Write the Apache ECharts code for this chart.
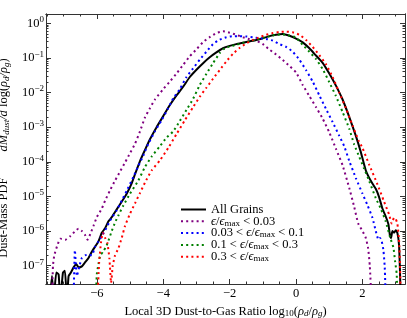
<!DOCTYPE html>
<html>
<head>
<meta charset="utf-8">
<script src="https://cdn.jsdelivr.net/npm/echarts@6/dist/echarts.min.js"></script>
<style>html,body{margin:0;padding:0;background:#fff}#c{width:407px;height:318px}</style>
</head>
<body>
<div id="c"></div>
<script>
// ---- Data (x = log10 dust-to-gas ratio, y = log10 of dust-mass PDF) ----
const allX = [-7.42,-7.35,-7.3,-7.22,-7.15,-7.1,-7.02,-6.96,-6.9,-6.85,-6.78,-6.7,-6.62,-6.55,-6.45,-6.35,-6.25,-6.15,-6.05,-5.95,-5.85,-5.75,-5.65,-5.55,-5.45,-5.35,-5.25,-5.1,-4.95,-4.85,-4.7,-4.55,-4.4,-4.2,-4.0,-3.8,-3.6,-3.4,-3.2,-3.0,-2.8,-2.6,-2.4,-2.2,-2.0,-1.8,-1.6,-1.4,-1.2,-1.0,-0.8,-0.6,-0.4,-0.2,0.0,0.2,0.4,0.6,0.8,1.0,1.2,1.4,1.6,1.8,1.95,2.1,2.25,2.4,2.5,2.6,2.7,2.78,2.83,2.86,2.9,2.95,3.0,3.05,3.1,3.13,3.15];
const allLog = [-8,-7.3,-8,-7.2,-7.25,-8,-7.2,-7.15,-8,-7.3,-7.2,-7.05,-6.95,-7.05,-7.02,-6.9,-6.78,-6.6,-6.45,-6.3,-6.05,-5.92,-5.72,-5.6,-5.45,-5.3,-5.15,-4.92,-4.62,-4.36,-3.98,-3.66,-3.35,-3.0,-2.68,-2.36,-2.08,-1.83,-1.55,-1.34,-1.15,-0.98,-0.84,-0.72,-0.65,-0.6,-0.56,-0.52,-0.48,-0.43,-0.37,-0.33,-0.31,-0.36,-0.44,-0.55,-0.72,-0.93,-1.14,-1.45,-1.8,-2.2,-2.7,-3.25,-3.72,-4.25,-4.55,-4.78,-5.02,-5.35,-5.58,-5.8,-6.15,-6.2,-6.0,-6.05,-5.98,-6.05,-6.4,-7.2,-8];

const purpleX = [-7.35,-7.32,-7.28,-7.2,-7.1,-6.95,-6.8,-6.65,-6.55,-6.45,-6.35,-6.28,-6.18,-6.1,-6.0,-5.85,-5.75,-5.6,-5.45,-5.3,-5.15,-5.0,-4.85,-4.7,-4.55,-4.4,-4.25,-4.0,-3.8,-3.6,-3.4,-3.2,-3.0,-2.8,-2.6,-2.4,-2.2,-2.0,-1.8,-1.6,-1.4,-1.2,-1.0,-0.8,-0.6,-0.4,-0.2,0.0,0.2,0.4,0.6,0.8,1.0,1.2,1.4,1.6,1.75,1.87,2.0,2.1,2.17,2.22,2.27];
const purpleLog = [-8,-7.0,-6.7,-6.45,-6.22,-6.25,-6.15,-6.0,-5.93,-6.0,-6.12,-6.25,-6.05,-5.85,-5.6,-5.35,-5.12,-4.82,-4.54,-4.28,-4.02,-3.75,-3.48,-3.12,-2.72,-2.45,-2.2,-1.9,-1.68,-1.45,-1.2,-0.95,-0.75,-0.54,-0.4,-0.28,-0.23,-0.27,-0.33,-0.4,-0.46,-0.5,-0.6,-0.76,-0.9,-1.06,-1.23,-1.42,-1.78,-2.1,-2.42,-2.75,-3.15,-3.62,-4.1,-4.75,-5.3,-5.78,-6.0,-6.2,-6.5,-7.0,-8];

const blueX = [-6.7,-6.66,-6.6,-6.52,-6.45,-6.35,-6.25,-6.15,-6.05,-5.95,-5.85,-5.75,-5.6,-5.4,-5.25,-5.1,-4.9,-4.75,-4.6,-4.45,-4.25,-4.05,-3.85,-3.7,-3.5,-3.3,-3.1,-2.9,-2.7,-2.5,-2.3,-2.1,-1.9,-1.7,-1.5,-1.3,-1.1,-0.9,-0.7,-0.5,-0.3,-0.1,0.1,0.3,0.5,0.7,0.9,1.1,1.3,1.45,1.6,1.8,2.0,2.15,2.3,2.4,2.48,2.53,2.58,2.63,2.67,2.7];
const blueLog = [-8,-6.55,-7.3,-7.0,-6.78,-6.7,-6.68,-6.7,-6.45,-6.3,-6.15,-5.98,-5.7,-5.4,-5.12,-4.84,-4.44,-4.12,-3.82,-3.48,-3.12,-2.8,-2.45,-2.17,-1.9,-1.55,-1.3,-1.05,-0.82,-0.6,-0.47,-0.4,-0.37,-0.37,-0.38,-0.4,-0.43,-0.45,-0.5,-0.6,-0.68,-0.82,-1.05,-1.35,-1.68,-2.08,-2.47,-2.85,-3.25,-3.55,-3.97,-4.47,-4.92,-5.25,-5.62,-6.0,-6.25,-6.2,-6.3,-6.55,-7.05,-8];

const greenX = [-6.03,-6.0,-5.95,-5.9,-5.8,-5.72,-5.65,-5.55,-5.45,-5.35,-5.2,-5.0,-4.75,-4.55,-4.35,-4.1,-3.9,-3.7,-3.5,-3.3,-3.1,-2.9,-2.7,-2.5,-2.3,-2.15,-2.0,-1.8,-1.6,-1.4,-1.2,-1.0,-0.8,-0.6,-0.4,-0.2,0.0,0.2,0.4,0.6,0.8,1.0,1.2,1.4,1.6,1.75,1.9,2.05,2.2,2.4,2.55,2.7,2.83,2.93,2.98,3.03,3.05];
const greenLog = [-8,-7.25,-6.95,-6.72,-6.58,-6.45,-6.28,-6.0,-5.75,-5.55,-5.26,-4.92,-4.54,-4.15,-3.85,-3.55,-3.3,-3.12,-2.82,-2.5,-2.18,-1.78,-1.46,-1.15,-0.86,-0.72,-0.67,-0.62,-0.56,-0.52,-0.47,-0.42,-0.37,-0.33,-0.32,-0.35,-0.41,-0.62,-0.82,-1.03,-1.32,-1.7,-2.1,-2.56,-3.04,-3.5,-3.85,-4.2,-4.55,-5.05,-5.35,-5.72,-6.18,-6.47,-6.86,-7.24,-8];

const redX = [-5.98,-5.93,-5.87,-5.82,-5.75,-5.68,-5.62,-5.57,-5.52,-5.45,-5.35,-5.25,-5.15,-5.0,-4.85,-4.7,-4.55,-4.35,-4.1,-3.85,-3.6,-3.35,-3.1,-2.9,-2.7,-2.5,-2.3,-2.1,-1.9,-1.7,-1.5,-1.3,-1.1,-0.9,-0.7,-0.5,-0.3,-0.1,0.1,0.3,0.5,0.7,0.9,1.1,1.3,1.5,1.7,1.88,2.0,2.2,2.45,2.65,2.8,2.88,2.95,3.0,3.05,3.1,3.13,3.15];
const redLog = [-8,-6.9,-6.3,-6.05,-6.2,-6.35,-6.8,-7.5,-7.0,-6.7,-6.5,-6.2,-5.85,-5.5,-5.2,-4.9,-4.6,-4.25,-3.96,-3.6,-3.2,-2.8,-2.42,-2.12,-1.86,-1.6,-1.35,-1.1,-0.88,-0.71,-0.58,-0.48,-0.4,-0.33,-0.28,-0.25,-0.24,-0.26,-0.33,-0.48,-0.68,-0.92,-1.18,-1.55,-2.0,-2.45,-2.95,-3.38,-3.6,-4.08,-4.65,-5.15,-5.52,-5.78,-5.62,-5.65,-5.78,-6.25,-7.0,-8];

const seriesNames = ['All Grains','ϵ/ϵmax < 0.03','0.03 < ϵ/ϵmax < 0.1','0.1 < ϵ/ϵmax < 0.3','0.3 < ϵ/ϵmax'];
const xMajorTicks = [-6,-4,-2,0,2];
const xMinorTicks = [-7.5,-7,-6.5,-5.5,-5,-4.5,-3.5,-3,-2.5,-1.5,-1,-0.5,0.5,1,1.5,2.5,3];
const yDecadeTicks = [-7,-6,-5,-4,-3,-2,-1,0];

// ---- Chart ----
const X_MIN = -7.53, X_MAX = 3.28, Y_MIN = -7.53, Y_MAX = 0.27;
const yMinorTicks = [];
for (let n = -8; n <= 0; n++) for (let k = 2; k <= 9; k++) {
  const v = n + Math.log10(k);
  if (v > Y_MIN && v < Y_MAX) yMinorTicks.push(v);
}
const FONT = "'Liberation Serif','DejaVu Serif',serif";
const FRAME = '#333';
const minus = v => (v < 0 ? '\u2212' + (-v) : String(v));
const pairs = (xs, ys) => xs.map((x, i) => [x, ys[i]]);

function xAx(pos, major, showLabel) {
  return {
    type: 'value', position: pos, min: X_MIN, max: X_MAX,
    axisLine: { show: true, onZero: false, lineStyle: { color: FRAME, width: 1 } },
    axisTick: { show: true, inside: true, length: major ? 5 : 2.5, customValues: major ? xMajorTicks : xMinorTicks, lineStyle: { color: FRAME } },
    axisLabel: { show: showLabel, customValues: xMajorTicks, formatter: minus, fontFamily: FONT, fontSize: 12.5, color: '#000', margin: 3 },
    splitLine: { show: false }
  };
}
function yAx(pos, major, showLabel) {
  return {
    type: 'value', position: pos, min: Y_MIN, max: Y_MAX,
    axisLine: { show: true, onZero: false, lineStyle: { color: FRAME, width: 1 } },
    axisTick: { show: true, inside: true, length: major ? 5 : 2.5, customValues: major ? yDecadeTicks : yMinorTicks, lineStyle: { color: FRAME } },
    axisLabel: {
      show: showLabel, customValues: yDecadeTicks, margin: 2,
      formatter: v => '{b|10}{s|' + minus(v) + '}',
      rich: {
        b: { fontFamily: FONT, fontSize: 12.5, color: '#000', lineHeight: 16 },
        s: { fontFamily: FONT, fontSize: 9, color: '#000', lineHeight: 8, verticalAlign: 'top' }
      }
    },
    splitLine: { show: false }
  };
}

const xAxes = [xAx('bottom', true, true), xAx('bottom', false, false), xAx('top', true, false), xAx('top', false, false)];
xAxes[0].name = '{t|Local 3D Dust-to-Gas Ratio log}{sub|10}{t|(}{i|ρ}{isub|d}{t|/}{i|ρ}{isub|g}{t|)}';
xAxes[0].nameLocation = 'middle';
xAxes[0].nameGap = 15;
xAxes[0].nameTextStyle = {
  rich: {
    t: { fontFamily: FONT, fontSize: 12.5, color: '#000', lineHeight: 14 },
    i: { fontFamily: FONT, fontSize: 12.5, fontStyle: 'italic', color: '#000', lineHeight: 14 },
    sub: { fontFamily: FONT, fontSize: 9, color: '#000', lineHeight: 6, verticalAlign: 'bottom' },
    isub: { fontFamily: FONT, fontSize: 9, fontStyle: 'italic', color: '#000', lineHeight: 6, verticalAlign: 'bottom' }
  }
};
const yAxes = [yAx('left', true, true), yAx('left', false, false), yAx('right', true, false), yAx('right', false, false)];
yAxes[0].name = '{t|Dust-Mass PDF}{gap|}{i|dM}{isub|dust}{i|/d}{t| log(}{i|ρ}{isub|d}{i|/ρ}{isub|g}{t|)}';
yAxes[0].nameLocation = 'middle';
yAxes[0].nameGap = 28;
yAxes[0].nameTextStyle = {
  padding: [0, 18, 0, 0],
  rich: {
    t: { fontFamily: FONT, fontSize: 12.5, color: '#000', lineHeight: 14 },
    i: { fontFamily: FONT, fontSize: 12.5, fontStyle: 'italic', color: '#000', lineHeight: 14 },
    isub: { fontFamily: FONT, fontSize: 9, fontStyle: 'italic', color: '#000', lineHeight: 6, verticalAlign: 'bottom' },
    gap: { width: 26 }
  }
};

const legendRich = {
  t: { fontFamily: FONT, fontSize: 12.5, color: '#000', lineHeight: 13 },
  i: { fontFamily: FONT, fontSize: 12.5, fontStyle: 'italic', color: '#000', lineHeight: 13 },
  sub: { fontFamily: FONT, fontSize: 9, color: '#000', lineHeight: 6, verticalAlign: 'bottom' }
};
const eps = '{i|ϵ}{t|/}{i|ϵ}{sub|max}';
const legendText = {
  'All Grains': '{t|All Grains}',
  'ϵ/ϵmax < 0.03': eps + '{t| < 0.03}',
  '0.03 < ϵ/ϵmax < 0.1': '{t|0.03 < }' + eps + '{t| < 0.1}',
  '0.1 < ϵ/ϵmax < 0.3': '{t|0.1 < }' + eps + '{t| < 0.3}',
  '0.3 < ϵ/ϵmax': '{t|0.3 < }' + eps
};

const dot = [2, 3.2];
function lineSeries(name, xs, ys, color, solid) {
  return {
    name, type: 'line', data: pairs(xs, ys), xAxisIndex: 0, yAxisIndex: 0,
    showSymbol: false, symbol: 'none', smooth: 0.15, clip: true,
    lineStyle: { color, width: 2, type: solid ? 'solid' : dot, cap: 'butt' },
    itemStyle: { color }
  };
}

const chart = echarts.init(document.getElementById('c'), null, { renderer: 'canvas' });
chart.setOption({
  animation: false,
  grid: { left: 46, right: 2, top: 14, bottom: 34, containLabel: false, outerBoundsMode: 'none' },
  xAxis: xAxes,
  yAxis: yAxes,
  legend: {
    orient: 'vertical', left: 175, top: 198, itemWidth: 25, itemHeight: 2, itemGap: -1.2,
    data: seriesNames, formatter: n => legendText[n],
    textStyle: { rich: legendRich },
    itemStyle: { opacity: 0 }
  },
  series: [
    lineSeries(seriesNames[0], allX, allLog, '#000000', true),
    lineSeries(seriesNames[1], purpleX, purpleLog, '#800080', false),
    lineSeries(seriesNames[2], blueX, blueLog, '#0000ff', false),
    lineSeries(seriesNames[3], greenX, greenLog, '#008000', false),
    lineSeries(seriesNames[4], redX, redLog, '#ff0000', false)
  ]
});
</script>
</body>
</html>
